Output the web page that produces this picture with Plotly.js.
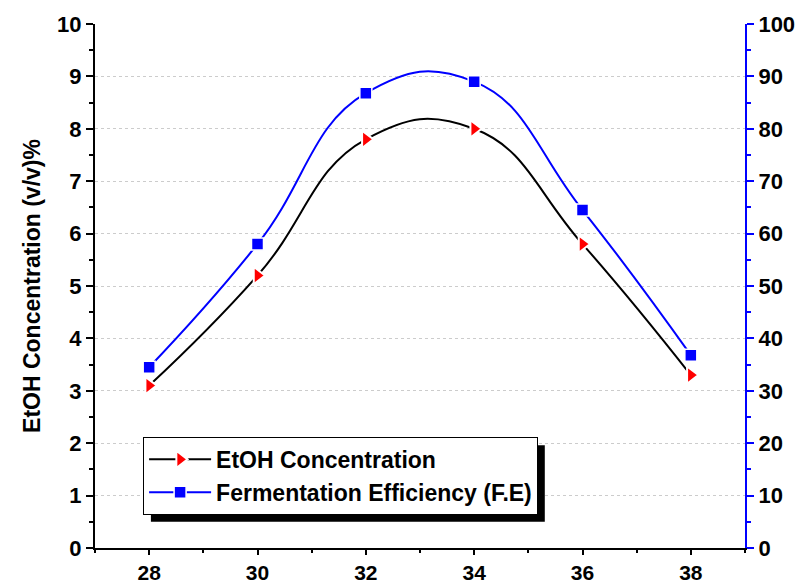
<!DOCTYPE html>
<html><head><meta charset="utf-8">
<script src="https://cdn.plot.ly/plotly-3.0.1.min.js"></script>
<style>html,body{margin:0;padding:0;background:#fff}</style>
</head><body>
<div id="chart" style="width:803px;height:585px"></div>
<script>
const temperature = [28, 30, 32, 34, 36, 38];
const etohConc = [3.1, 5.2, 7.8, 8.0, 5.8, 3.3];
const fermEff = [34.5, 58.0, 86.8, 89.0, 64.5, 36.8];
const seriesNames = ["EtOH Concentration", "Fermentation Efficiency (F.E)"];

const fam = "Liberation Sans, Arial, sans-serif";
const TF = {family: fam, size: 22, color: "#000", weight: "bold"};
const XF = {family: fam, size: 21, color: "#000", weight: "bold"};
const LF = {family: fam, size: 23, color: "#000", weight: "bold"};
const HF = {family: fam, size: 23, color: "#000", weight: "bold"};

const traces = [
  {x: temperature, y: etohConc, name: seriesNames[0], type: "scatter", mode: "lines+markers",
   line: {color: "#000", width: 2, shape: "spline", smoothing: 1.3},
   marker: {symbol: "triangle-right", size: 15, color: "#ff0000", line: {color: "#fff", width: 2}},
   yaxis: "y"},
  {x: temperature, y: fermEff, name: seriesNames[1], type: "scatter", mode: "lines+markers",
   line: {color: "#0000ff", width: 2, shape: "spline", smoothing: 1.3},
   marker: {symbol: "square", size: 12, color: "#0000ff", line: {color: "#fff", width: 1.5}},
   yaxis: "y2"}
];

const layout = {
  width: 803, height: 585,
  margin: {l: 95, r: 58, t: 24, b: 37},
  paper_bgcolor: "#fff", plot_bgcolor: "#fff",
  font: TF,
  showlegend: true,
  legend: {x: 0.074, y: 0.212, xanchor: "left", yanchor: "top",
           bgcolor: "#fff", bordercolor: "#000", borderwidth: 1,
           font: LF, itemwidth: 62, tracegroupgap: 0},
  xaxis: {range: [27, 39], tickvals: temperature, ticktext: temperature.map(String),
          ticks: "outside", ticklen: 5, tickwidth: 2, tickcolor: "#000",
          showline: true, linecolor: "#000", linewidth: 2, showgrid: false, zeroline: false,
          minor: {dtick: 1, tick0: 27, ticks: "outside", ticklen: 3, tickwidth: 2, tickcolor: "#000", showgrid: false},
          tickfont: XF},
  yaxis: {range: [0, 10], dtick: 1, ticks: "outside", ticklen: 7, tickwidth: 2, tickcolor: "#000",
          showline: true, linecolor: "#000", linewidth: 2, zeroline: false,
          showgrid: true, gridcolor: "#cccccc", gridwidth: 1, griddash: "dot",
          minor: {dtick: 0.5, ticks: "outside", ticklen: 4, tickwidth: 2, tickcolor: "#000", showgrid: false},
          tickfont: TF,
          title: {text: "EtOH Concentration (v/v)%", font: HF, standoff: 10}},
  yaxis2: {range: [0, 100], dtick: 10, overlaying: "y", side: "right",
           ticks: "outside", ticklen: 7, tickwidth: 2, tickcolor: "#0000ff",
           showline: true, linecolor: "#0000ff", linewidth: 2, zeroline: false, showgrid: false,
           minor: {dtick: 5, ticks: "outside", ticklen: 4, tickwidth: 2, tickcolor: "#0000ff", showgrid: false},
           tickfont: TF},
  shapes: [
    {type: "rect", xref: "paper", yref: "paper", x0: 0.086, x1: 0.692, y0: 0.05, y1: 0.196,
     fillcolor: "#000", line: {width: 0}, layer: "above"}
  ]
};

Plotly.newPlot("chart", traces, layout, {displayModeBar: false, staticPlot: true});
</script>
</body></html>
